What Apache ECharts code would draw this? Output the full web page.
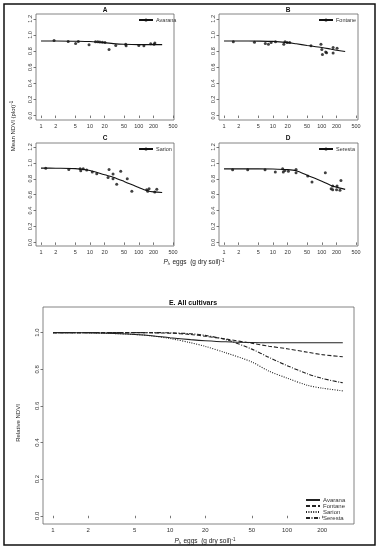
<!DOCTYPE html>
<html>
<head>
<meta charset="utf-8">
<script src="https://cdn.jsdelivr.net/npm/echarts@6/dist/echarts.min.js"></script>
<style>html,body{margin:0;padding:0;background:#fff}#c{width:384px;height:550px}</style>
</head>
<body>
<div id="c"></div>
<script>
// ---- data ----
const panelTicks = [1, 2, 5, 10, 20, 50, 100, 200, 500];
const eTicks = [1, 2, 5, 10, 20, 50, 100, 200];
const yTicksPanel = [0, 0.2, 0.4, 0.6, 0.8, 1.0, 1.2];
const yTicksE = [0, 0.2, 0.4, 0.6, 0.8, 1.0];
const cultivars = ['Avarana', 'Fontane', 'Sarion', 'Seresta'];
const panelLetters = ['A', 'B', 'C', 'D'];

const fitX = [1, 2, 5, 10, 20, 30, 50, 100, 150, 200, 300];
const avaranaFit = [0.925, 0.925, 0.922, 0.918, 0.905, 0.893, 0.884, 0.880, 0.880, 0.880, 0.880];
const fontaneFit = [0.925, 0.925, 0.924, 0.920, 0.905, 0.890, 0.870, 0.845, 0.825, 0.810, 0.795];
const sarionFit  = [0.934, 0.933, 0.928, 0.905, 0.850, 0.820, 0.767, 0.690, 0.650, 0.635, 0.628];
const serestaFit = [0.925, 0.925, 0.925, 0.923, 0.915, 0.900, 0.845, 0.770, 0.720, 0.695, 0.667];

const avaranaPts = [[1.85,0.93],[3.6,0.92],[5.1,0.895],[5.8,0.92],[9.6,0.88],[13,0.915],[14.5,0.915],[16,0.912],[18,0.91],[20.3,0.905],[24.6,0.82],[33.8,0.87],[54,0.885],[55,0.865],[100,0.87],[127,0.865],[175,0.89],[205,0.885],[213,0.90]];
const fontanePts = [[1.55,0.915],[4.2,0.91],[7.0,0.895],[8.1,0.885],[9.2,0.905],[11.3,0.915],[16.7,0.885],[17.7,0.915],[19.6,0.905],[22,0.905],[60,0.866],[96,0.885],[100,0.82],[103,0.758],[120,0.79],[125,0.78],[170,0.845],[170,0.775],[205,0.835]];
const sarionPts = [[1.25,0.934],[3.7,0.917],[6.3,0.925],[6.5,0.90],[7.3,0.925],[8.6,0.912],[11.2,0.884],[13.8,0.864],[23.5,0.817],[24.6,0.917],[29.7,0.86],[29.7,0.80],[35.3,0.73],[42.7,0.896],[58,0.80],[72,0.642],[145,0.663],[152,0.642],[162,0.675],[212,0.634],[233,0.67]];
const serestaPts = [[1.5,0.913],[3.05,0.913],[6.9,0.913],[11.2,0.884],[15.8,0.925],[16.3,0.884],[17.5,0.905],[20.7,0.896],[29.7,0.917],[29.7,0.875],[51.5,0.834],[63,0.759],[118,0.875],[155,0.675],[167,0.663],[167,0.709],[205,0.709],[200,0.663],[235,0.655],[246,0.78]];

const relX = [1, 2, 3, 5, 7, 10, 15, 20, 30, 50, 70, 100, 150, 200, 300];
const avaranaRel = [1.0, 0.999, 0.997, 0.990, 0.983, 0.972, 0.962, 0.956, 0.950, 0.946, 0.945, 0.945, 0.945, 0.945, 0.945];
const fontaneRel = [1.0, 1.0, 1.0, 1.0, 0.999, 0.997, 0.990, 0.980, 0.965, 0.942, 0.926, 0.912, 0.893, 0.880, 0.868];
const sarionRel  = [1.0, 0.999, 0.996, 0.990, 0.982, 0.968, 0.945, 0.925, 0.890, 0.840, 0.790, 0.752, 0.712, 0.697, 0.682];
const serestaRel = [1.0, 1.0, 1.0, 1.0, 1.0, 0.999, 0.994, 0.985, 0.962, 0.910, 0.865, 0.820, 0.775, 0.750, 0.726];

// ---- build ----
const FONT = 'Liberation Sans, Arial, Helvetica, sans-serif';
const fits = [avaranaFit, fontaneFit, sarionFit, serestaFit];
const pts = [avaranaPts, fontanePts, sarionPts, serestaPts];
const rels = [avaranaRel, fontaneRel, sarionRel, serestaRel];
const relDash = ['solid', [4, 2], [1, 1.4], [4, 1.5, 1, 1.5]];

const grids = [
  {left: 36, top: 14, width: 138, height: 106},
  {left: 219, top: 14, width: 139, height: 106},
  {left: 36, top: 143, width: 138, height: 103},
  {left: 219, top: 143, width: 139, height: 103},
  {left: 43, top: 307, width: 311, height: 217}
].map(g => Object.assign(g, {show: true, borderColor: '#666', borderWidth: 0.8, backgroundColor: '#fff', containLabel: false}));

const xRanges = [[0.79, 524], [0.79, 549], [0.79, 524], [0.79, 549], [0.821, 374]];
const yRanges = [[-0.055, 1.26], [-0.055, 1.26], [-0.045, 1.25], [-0.045, 1.25], [-0.045, 1.14]];

const xAxis = xRanges.map((r, i) => {
  const ticks = i === 4 ? eTicks : panelTicks;
  return {
    type: 'log', logBase: 10, gridIndex: i, min: r[0], max: r[1],
    axisLine: {show: false}, splitLine: {show: false}, minorTick: {show: false},
    axisTick: {show: true, length: 2.5, customValues: ticks, lineStyle: {color: '#555', width: 0.8}},
    axisLabel: {customValues: ticks, fontSize: i === 4 ? 6 : 5.5, color: '#333', margin: 3, fontFamily: FONT,
      formatter: v => String(Math.round(v))}
  };
});
const yAxis = yRanges.map((r, i) => {
  const ticks = i === 4 ? yTicksE : yTicksPanel;
  return {
    type: 'value', gridIndex: i, min: r[0], max: r[1],
    axisLine: {show: false}, splitLine: {show: false},
    axisTick: {show: true, length: 2.5, customValues: ticks, lineStyle: {color: '#555', width: 0.8}},
    axisLabel: {customValues: ticks, fontSize: i === 4 ? 6 : 5.5, color: '#333', margin: 3, rotate: 90, fontFamily: FONT,
      formatter: v => v.toFixed(1)}
  };
});

const series = [];
cultivars.forEach((name, i) => {
  series.push({
    name: name, type: 'line', xAxisIndex: i, yAxisIndex: i, smooth: 0.3,
    data: fitX.map((x, k) => [x, fits[i][k]]),
    symbol: 'circle', symbolSize: 3, showSymbol: false,
    lineStyle: {color: '#111', width: 1.1}, itemStyle: {color: '#111'}, silent: true, z: 3
  });
  series.push({
    name: name + ' obs', type: 'scatter', xAxisIndex: i, yAxisIndex: i,
    data: pts[i], symbol: 'circle', symbolSize: 3, itemStyle: {color: '#111'}, silent: true, z: 4
  });
});
cultivars.forEach((name, i) => {
  series.push({
    name: 'E-' + name, type: 'line', xAxisIndex: 4, yAxisIndex: 4, smooth: 0.3,
    data: relX.map((x, k) => [x, rels[i][k]]), symbol: 'none',
    lineStyle: {color: '#222', width: 1.1, type: relDash[i]}, itemStyle: {color: '#222'}, silent: true
  });
});

const legendPos = [[138, 17], [318, 17], [138, 146], [318, 146]];
const legend = cultivars.map((name, i) => ({
  data: [name], left: legendPos[i][0], top: legendPos[i][1], itemWidth: 14, itemHeight: 4, itemGap: 0,
  padding: 0, selectedMode: false, textStyle: {fontSize: 5.5, color: '#333', fontFamily: FONT, padding: [0, 0, 0, -2]}
}));
legend.push({
  data: cultivars.map(n => 'E-' + n), formatter: n => n.replace('E-', ''), orient: 'vertical',
  left: 305, top: 497, itemWidth: 14, itemHeight: 6, itemGap: 0, padding: 0, selectedMode: false,
  itemStyle: {opacity: 0},
  textStyle: {fontSize: 6, color: '#333', fontFamily: FONT, padding: [0, 0, 0, -2]}
});

const titlePos = [[105, 10], [288, 10], [105, 138], [288, 138]];
const graphic = [
  {type: 'rect', shape: {x: 4, y: 4, width: 371, height: 541}, style: {fill: 'none', stroke: '#111', lineWidth: 1.5}, silent: true}
];
panelLetters.forEach((t, i) => graphic.push({
  type: 'text', x: titlePos[i][0], y: titlePos[i][1],
  style: {text: t, align: 'center', verticalAlign: 'middle', fontSize: 6.5, fontWeight: 'bold', fontFamily: FONT, fill: '#111'}
}));
graphic.push({
  type: 'text', x: 193, y: 303,
  style: {text: 'E. All cultivars', align: 'center', verticalAlign: 'middle', fontSize: 7, fontWeight: 'bold', fontFamily: FONT, fill: '#111'}
});
const richX = {
  i: {fontSize: 6.5, fontStyle: 'italic', fontFamily: FONT, fill: '#222'},
  s: {fontSize: 4.5, fontStyle: 'italic', fontFamily: FONT, fill: '#222', verticalAlign: 'bottom', padding: [3, 0, 0, 0]},
  n: {fontSize: 6.5, fontFamily: FONT, fill: '#222'},
  u: {fontSize: 4.5, fontFamily: FONT, fill: '#222', padding: [0, 0, 3, 0]}
};
const xName = '{i|P}{s|i}{n|, eggs  (g dry soil)}{u|-1}';
graphic.push({type: 'text', x: 194, y: 262, style: {text: xName, rich: richX, align: 'center', verticalAlign: 'middle', fontSize: 6.5}});
graphic.push({type: 'text', x: 205, y: 541, style: {text: xName, rich: richX, align: 'center', verticalAlign: 'middle', fontSize: 6.5}});
graphic.push({
  type: 'text', x: 13, y: 126, rotation: Math.PI / 2,
  style: {text: '{n|Mean NDVI (plot)}{u|-1}', rich: {
    n: {fontSize: 6, fontFamily: FONT, fill: '#222'},
    u: {fontSize: 4.5, fontFamily: FONT, fill: '#222', padding: [0, 0, 3, 0]}
  }, align: 'center', verticalAlign: 'middle'}
});
graphic.push({
  type: 'text', x: 18, y: 423, rotation: Math.PI / 2,
  style: {text: 'Relative NDVI', align: 'center', verticalAlign: 'middle', fontSize: 6, fontFamily: FONT, fill: '#222'}
});

const chart = echarts.init(document.getElementById('c'), null, {renderer: 'canvas'});
chart.setOption({
  animation: false,
  backgroundColor: '#fff',
  grid: grids, xAxis: xAxis, yAxis: yAxis, series: series, legend: legend, graphic: graphic
});
</script>
</body>
</html>
